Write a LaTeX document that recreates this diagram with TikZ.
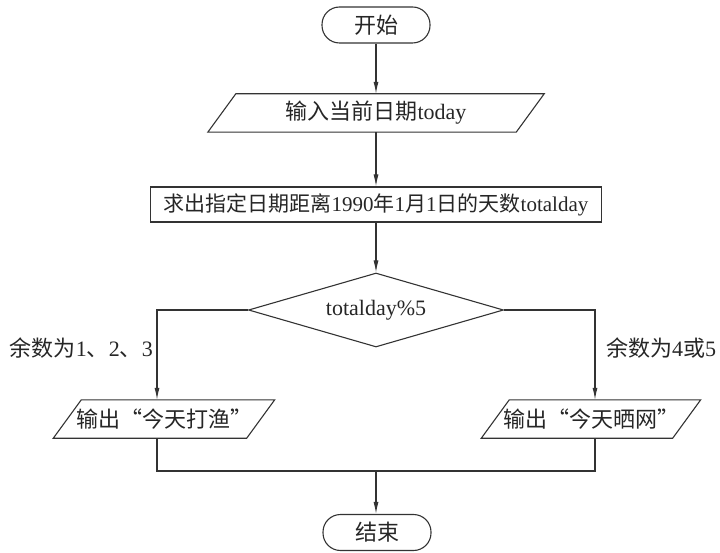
\documentclass[tikz,border=0pt]{standalone}
\usepackage{fontspec}
\setmainfont{Liberation Serif}
\newfontfamily\cjk{Noto Sans CJK SC}
\newfontfamily\cjkq[CharacterWidth=Full]{Noto Sans CJK SC}
\usetikzlibrary{arrows.meta,shapes.geometric}
\newcommand\zh[1]{{\cjk #1}}
\newcommand\zlq{{\cjkq “}}
\newcommand\zrq{{\cjkq ”}}
\begin{document}
\begin{tikzpicture}[x=1pt,y=-1pt,
  every node/.style={font=\fontsize{22}{26}\selectfont, text=black!85, inner sep=0pt},
  line/.style={draw=black!80, line width=1.1pt},
  arr/.style={line, -{Latex[length=12pt,width=5pt]}},
  term/.style={line, rounded corners=17.5pt, minimum width=108pt, minimum height=36pt},
  procbox/.style={line, minimum width=451pt, minimum height=35pt, font=\fontsize{21}{25}\selectfont},
  dec/.style={line, diamond, minimum width=255pt, minimum height=74pt, aspect=3.4},
  iobox/.style={minimum height=38pt}
]
\useasboundingbox (0,0) rectangle (720,553);

\node[term] (start) at (376,25) {\zh{开始}};

\node[iobox, minimum width=308pt] (in) at (376,113) {\zh{输入当前日期}today};
\draw[line] ([xshift=14pt]in.north west) -- ([xshift=14pt]in.north east) -- ([xshift=-14pt]in.south east) -- ([xshift=-14pt]in.south west) -- cycle;

\node[procbox] (calc) at (376,204.5) {\zh{求出指定日期距离}1990\zh{年}1\zh{月}1\zh{日的天数}totalday};

\node[dec] (dec) at (376,310) {totalday\%5};

\coordinate (bl) at (157,310);
\coordinate (br) at (595,310);

\node[iobox, minimum width=193pt] (outl) at (164,419) {\zh{输出}\zlq\zh{今天打渔}\zrq};
\draw[line] ([xshift=14pt]outl.north west) -- ([xshift=14pt]outl.north east) -- ([xshift=-14pt]outl.south east) -- ([xshift=-14pt]outl.south west) -- cycle;

\node[iobox, minimum width=191pt] (outr) at (591,419) {\zh{输出}\zlq\zh{今天晒网}\zrq};
\draw[line] ([xshift=14pt]outr.north west) -- ([xshift=14pt]outr.north east) -- ([xshift=-14pt]outr.south east) -- ([xshift=-14pt]outr.south west) -- cycle;

\node[term] (end) at (377,532.5) {\zh{结束}};

\coordinate (jl) at (157,471);
\coordinate (jr) at (595,471);
\coordinate (j) at (376,471);

\node[anchor=east] (l1) at (153,348) {\zh{余数为}1\zh{、}2\zh{、}3};
\node[anchor=west] (l2) at (606,348) {\zh{余数为}4\zh{或}5};

\draw[arr] (start.south) -- (start.south |- in.north);
\draw[arr] (in.south) -- (in.south |- calc.north);
\draw[arr] (calc.south) -- (calc.south |- dec.north);
\draw[arr] (dec.west) -- (bl) -- (bl |- outl.north);
\draw[arr] (dec.east) -- (br) -- (br |- outr.north);
\draw[line] (bl |- outl.south) -- (jl) -- (jr) -- (br |- outr.south);
\draw[arr] (j) -- (j |- end.north);
\end{tikzpicture}
\end{document}
